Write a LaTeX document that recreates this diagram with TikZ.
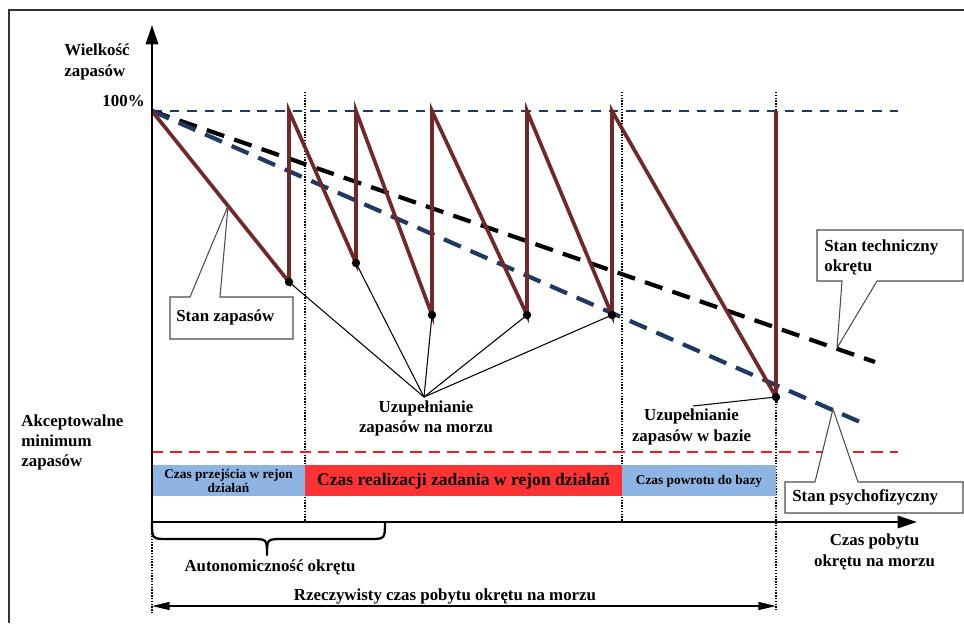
\documentclass[tikz,border=0pt]{standalone}
\usepackage{fontspec}
\setmainfont{Liberation Serif}
\usetikzlibrary{arrows.meta,calc}
\definecolor{saw}{RGB}{112,40,40}
\definecolor{navy}{RGB}{31,56,100}
\definecolor{barblue}{RGB}{141,180,226}
\definecolor{barred}{RGB}{255,51,51}
\definecolor{accred}{RGB}{240,30,30}
\begin{document}
\begin{tikzpicture}[x=0.02cm,y=-0.02cm,
  lbl/.style={font=\fontsize{9.6}{11.5}\selectfont\bfseries, inner sep=0pt, align=center},
  lbll/.style={lbl, align=left},
  smalllbl/.style={font=\fontsize{7.6}{8.2}\selectfont\bfseries, inner sep=0pt, align=center},
  sawline/.style={draw=saw, line width=2.1pt, line join=miter},
  vdot/.style={line width=0.9pt, dash pattern=on 0.8pt off 0.8pt},
  dotpt/.style={circle, fill=black, inner sep=0pt, minimum size=4.8pt},
  callout/.style={draw=black!70, line width=0.6pt, fill=white, line join=miter},
  leader/.style={line width=0.6pt},
  trendline/.style={line width=2.4pt, dash pattern=on 10.5pt off 6pt},
  axis/.style={line width=1.4pt},
  bigtip/.tip={Triangle[length=11pt,width=7pt]},
  smalltip/.tip={Triangle[length=10pt,width=4.5pt]}
]
\useasboundingbox (0,0) rectangle (964,623);
% frame
\draw[line width=0.8pt, black!80] (9,623) -- (9,10) -- (964,10);

% dotted phase lines
\draw[vdot] (305,92) -- (305,522);
\draw[vdot] (622,92) -- (622,522);
\draw[vdot] (776,92) -- (776,610);
\draw[vdot] (152,522) -- (152,612);

% phase bars
\fill[barblue] (152,465) rectangle (305,496);
\fill[barred] (305,465) rectangle (622,496);
\fill[barblue] (622,465) rectangle (776,496);
\node[smalllbl] (p1) at (228.5,481) {Czas przejścia w rejon\\działań};
\node[lbl, font=\fontsize{10}{12}\selectfont\bfseries] (p2) at (463.5,481) {Czas realizacji zadania w rejon działań};
\node[smalllbl] (p3) at (699,481) {Czas powrotu do bazy};

% minimum line
\draw[accred, line width=1.4pt, dash pattern=on 6.5pt off 4pt] (152,452) -- (898,452);
% 100% line
\draw[navy, line width=1.5pt, dash pattern=on 5.5pt off 4.5pt] (152,111) -- (898,111);

% trend lines
\coordinate (o) at (152,111);
\coordinate (tech) at (875,362);
\coordinate (psych) at (860,422);
\draw[trendline, black] (o) -- (tech);
\draw[trendline, navy] (o) -- (psych);

% sawtooth
\coordinate (d1) at (289,282);
\coordinate (d2) at (356,263);
\coordinate (d3) at (432,315);
\coordinate (d4) at (527,315);
\coordinate (d5) at (612,315);
\coordinate (d6) at (776,397);
\draw[sawline] (o) -- (d1) -- (289,111) -- (d2) -- (356,111) -- (d3) -- (432,111)
  -- (d4) -- (527,111) -- (d5) -- (612,111) -- (d6) -- (776,111);
\foreach \d in {d1,d2,d3,d4,d5,d6} \node[dotpt] at (\d) {};

% leaders: replenishment at sea
\coordinate (umt) at (424,397);
\foreach \d in {d1,d2,d3,d4,d5} \draw[leader] (umt) -- (\d);
\node[lbl] (um) at (426,418.5) {Uzupełnianie\\zapasów na morzu};
% replenishment at base
\coordinate (ubt) at (693,406);
\draw[leader] (ubt) -- (d6);
\node[lbl] (ub) at (691.5,427) {Uzupełnianie\\zapasów w bazie};

% callout: Stan zapasów
\coordinate (szt) at ($(o)!0.555!(d1)$);
\draw[callout] (170,297) -- (190,297) -- (szt) -- (220,297) -- (293,297)
  -- (293,339) -- (170,339) -- cycle;
\node[lbl, anchor=west] (sz) at (176,317) {Stan zapasów};

% callout: Stan techniczny
\draw[callout] (817,230) -- (963,230) -- (963,281) -- (877,281) -- (837,348) -- (842,281)
  -- (817,281) -- cycle;
\node[lbll, anchor=west] (st) at (824,257.5) {Stan techniczny\\okrętu};

% callout: Stan psychofizyczny
\draw[callout] (785,482) -- (815,482) -- (833,409) -- (858,482) -- (963,482)
  -- (963,513) -- (785,513) -- cycle;
\node[lbl, anchor=west] (sp) at (792,497) {Stan psychofizyczny};

% axes
\coordinate (ytop) at (152,25);
\coordinate (orig) at (152,522);
\coordinate (xend) at (917,522);
\draw[axis, bigtip-bigtip] (ytop) -- (orig) -- (xend);

% brace
\draw[line width=1.3pt, line join=round] (152,522) .. controls (152,539) .. (168,539) -- (251,539)
  .. controls (267,539) .. (267,555) .. controls (267,539) .. (283,539) -- (369,539)
  .. controls (385,539) .. (385,522);
\node[lbl] (auto) at (270,567) {Autonomiczność okrętu};

% real time arrow
\coordinate (ra) at (152,606);
\coordinate (rb) at (776,606);
\draw[line width=0.8pt, smalltip-smalltip] (ra) -- (rb);
\node[lbl] (rz) at (445,596) {Rzeczywisty czas pobytu okrętu na morzu};

% axis labels
\node[lbll, anchor=west] (wz) at (64,62) {Wielkość\\zapasów};
\node[lbl, anchor=east] (h) at (145,101) {100\%};
\node[lbll, anchor=west] (am) at (21,442.5) {Akceptowalne\\minimum\\zapasów};
\node[lbl] (cz) at (874.5,552) {Czas pobytu\\okrętu na morzu};
\end{tikzpicture}
\end{document}
